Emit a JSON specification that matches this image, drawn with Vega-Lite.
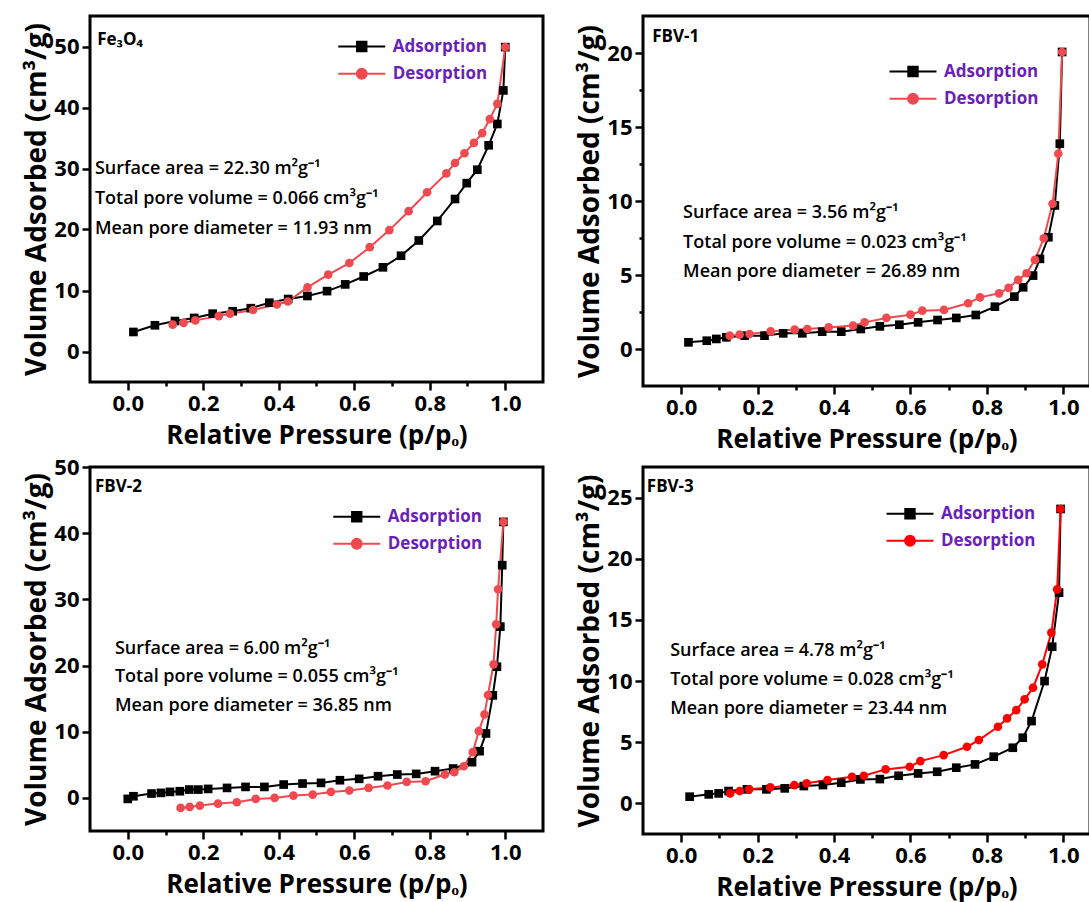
{
  "$schema": "https://vega.github.io/schema/vega-lite/v6.json",
  "padding": {"left": 22, "top": 14, "right": 0, "bottom": 0},
  "columns": 2,
  "spacing": {"row": 81, "column": 100},
  "bounds": "flush",
  "align": "each",
  "resolve": {"scale": {"color": "independent", "opacity": "independent"}, "legend": {"color": "independent", "opacity": "independent"}},
  "config": {
    "font": "Open Sans",
    "view": {"stroke": "#000000", "strokeWidth": 3},
    "axis": {"domain": false, "grid": false, "tickColor": "#000000", "tickWidth": 2.5, "labelFont": "Open Sans", "labelFontSize": 22, "labelFontWeight": "bold", "labelColor": "#000000", "labelPadding": 3, "labelOverlap": false, "labelBound": false, "labelFlush": false, "titleFont": "Open Sans", "titleFontWeight": "bold", "titleColor": "#000000"},
    "axisX": {"titleFontSize": 26, "titlePadding": 8},
    "axisY": {"titleFontSize": 28, "titlePadding": 2},
    "legend": {"labelFont": "Open Sans", "labelFontSize": 17, "labelFontWeight": "bold", "labelColor": "#6a1fb8", "symbolSize": 552, "symbolStrokeWidth": 2, "symbolOpacity": 1, "labelOffset": 18, "rowPadding": 3, "padding": 0}
  },
  "datasets": {
    "fe3o4": [
      {"p": 0.015, "v": 3.2, "s": "Adsorption"}, {"p": 0.072, "v": 4.3, "s": "Adsorption"}, {"p": 0.125, "v": 5.0, "s": "Adsorption"}, {"p": 0.176, "v": 5.5, "s": "Adsorption"}, {"p": 0.225, "v": 6.2, "s": "Adsorption"}, {"p": 0.278, "v": 6.6, "s": "Adsorption"}, {"p": 0.326, "v": 7.1, "s": "Adsorption"}, {"p": 0.375, "v": 8.0, "s": "Adsorption"}, {"p": 0.425, "v": 8.6, "s": "Adsorption"}, {"p": 0.476, "v": 9.1, "s": "Adsorption"}, {"p": 0.528, "v": 9.9, "s": "Adsorption"}, {"p": 0.576, "v": 11.0, "s": "Adsorption"}, {"p": 0.625, "v": 12.3, "s": "Adsorption"}, {"p": 0.676, "v": 13.8, "s": "Adsorption"}, {"p": 0.724, "v": 15.7, "s": "Adsorption"}, {"p": 0.771, "v": 18.2, "s": "Adsorption"}, {"p": 0.82, "v": 21.4, "s": "Adsorption"}, {"p": 0.867, "v": 25.0, "s": "Adsorption"}, {"p": 0.898, "v": 27.6, "s": "Adsorption"}, {"p": 0.926, "v": 29.8, "s": "Adsorption"}, {"p": 0.956, "v": 33.8, "s": "Adsorption"}, {"p": 0.979, "v": 37.3, "s": "Adsorption"}, {"p": 0.995, "v": 42.8, "s": "Adsorption"}, {"p": 1.0, "v": 49.9, "s": "Adsorption"},
      {"p": 1.0, "v": 49.9, "s": "Desorption"}, {"p": 0.979, "v": 40.6, "s": "Desorption"}, {"p": 0.959, "v": 38.1, "s": "Desorption"}, {"p": 0.939, "v": 35.8, "s": "Desorption"}, {"p": 0.917, "v": 34.2, "s": "Desorption"}, {"p": 0.892, "v": 32.5, "s": "Desorption"}, {"p": 0.867, "v": 30.9, "s": "Desorption"}, {"p": 0.844, "v": 29.2, "s": "Desorption"}, {"p": 0.793, "v": 26.1, "s": "Desorption"}, {"p": 0.744, "v": 23.0, "s": "Desorption"}, {"p": 0.693, "v": 19.9, "s": "Desorption"}, {"p": 0.641, "v": 17.1, "s": "Desorption"}, {"p": 0.587, "v": 14.5, "s": "Desorption"}, {"p": 0.531, "v": 12.6, "s": "Desorption"}, {"p": 0.476, "v": 10.5, "s": "Desorption"}, {"p": 0.424, "v": 8.2, "s": "Desorption"}, {"p": 0.395, "v": 7.7, "s": "Desorption"}, {"p": 0.332, "v": 6.8, "s": "Desorption"}, {"p": 0.271, "v": 6.2, "s": "Desorption"}, {"p": 0.241, "v": 5.8, "s": "Desorption"}, {"p": 0.179, "v": 5.1, "s": "Desorption"}, {"p": 0.148, "v": 4.7, "s": "Desorption"}, {"p": 0.119, "v": 4.4, "s": "Desorption"}
    ],
    "fbv1": [
      {"p": 0.019, "v": 0.45, "s": "Adsorption"}, {"p": 0.067, "v": 0.56, "s": "Adsorption"}, {"p": 0.092, "v": 0.68, "s": "Adsorption"}, {"p": 0.118, "v": 0.79, "s": "Adsorption"}, {"p": 0.166, "v": 0.9, "s": "Adsorption"}, {"p": 0.218, "v": 0.9, "s": "Adsorption"}, {"p": 0.267, "v": 1.06, "s": "Adsorption"}, {"p": 0.317, "v": 1.06, "s": "Adsorption"}, {"p": 0.369, "v": 1.17, "s": "Adsorption"}, {"p": 0.419, "v": 1.17, "s": "Adsorption"}, {"p": 0.47, "v": 1.35, "s": "Adsorption"}, {"p": 0.52, "v": 1.53, "s": "Adsorption"}, {"p": 0.571, "v": 1.64, "s": "Adsorption"}, {"p": 0.62, "v": 1.8, "s": "Adsorption"}, {"p": 0.671, "v": 1.96, "s": "Adsorption"}, {"p": 0.72, "v": 2.1, "s": "Adsorption"}, {"p": 0.771, "v": 2.3, "s": "Adsorption"}, {"p": 0.821, "v": 2.86, "s": "Adsorption"}, {"p": 0.872, "v": 3.54, "s": "Adsorption"}, {"p": 0.895, "v": 4.17, "s": "Adsorption"}, {"p": 0.921, "v": 4.96, "s": "Adsorption"}, {"p": 0.939, "v": 6.09, "s": "Adsorption"}, {"p": 0.961, "v": 7.55, "s": "Adsorption"}, {"p": 0.978, "v": 9.7, "s": "Adsorption"}, {"p": 0.991, "v": 13.87, "s": "Adsorption"}, {"p": 0.997, "v": 20.07, "s": "Adsorption"},
      {"p": 0.997, "v": 20.07, "s": "Desorption"}, {"p": 0.987, "v": 13.19, "s": "Desorption"}, {"p": 0.972, "v": 9.81, "s": "Desorption"}, {"p": 0.949, "v": 7.48, "s": "Desorption"}, {"p": 0.926, "v": 6.02, "s": "Desorption"}, {"p": 0.904, "v": 5.12, "s": "Desorption"}, {"p": 0.882, "v": 4.67, "s": "Desorption"}, {"p": 0.857, "v": 4.13, "s": "Desorption"}, {"p": 0.832, "v": 3.76, "s": "Desorption"}, {"p": 0.782, "v": 3.49, "s": "Desorption"}, {"p": 0.751, "v": 3.09, "s": "Desorption"}, {"p": 0.688, "v": 2.64, "s": "Desorption"}, {"p": 0.631, "v": 2.59, "s": "Desorption"}, {"p": 0.6, "v": 2.32, "s": "Desorption"}, {"p": 0.537, "v": 2.1, "s": "Desorption"}, {"p": 0.48, "v": 1.8, "s": "Desorption"}, {"p": 0.45, "v": 1.58, "s": "Desorption"}, {"p": 0.386, "v": 1.46, "s": "Desorption"}, {"p": 0.33, "v": 1.35, "s": "Desorption"}, {"p": 0.297, "v": 1.31, "s": "Desorption"}, {"p": 0.234, "v": 1.19, "s": "Desorption"}, {"p": 0.179, "v": 1.01, "s": "Desorption"}, {"p": 0.153, "v": 0.97, "s": "Desorption"}, {"p": 0.127, "v": 0.9, "s": "Desorption"}
    ],
    "fbv2": [
      {"p": 0.0, "v": -0.15, "s": "Adsorption"}, {"p": 0.015, "v": 0.25, "s": "Adsorption"}, {"p": 0.063, "v": 0.66, "s": "Adsorption"}, {"p": 0.088, "v": 0.76, "s": "Adsorption"}, {"p": 0.112, "v": 0.91, "s": "Adsorption"}, {"p": 0.138, "v": 1.01, "s": "Adsorption"}, {"p": 0.163, "v": 1.26, "s": "Adsorption"}, {"p": 0.187, "v": 1.26, "s": "Adsorption"}, {"p": 0.213, "v": 1.36, "s": "Adsorption"}, {"p": 0.263, "v": 1.51, "s": "Adsorption"}, {"p": 0.312, "v": 1.66, "s": "Adsorption"}, {"p": 0.362, "v": 1.66, "s": "Adsorption"}, {"p": 0.413, "v": 2.02, "s": "Adsorption"}, {"p": 0.463, "v": 2.17, "s": "Adsorption"}, {"p": 0.512, "v": 2.27, "s": "Adsorption"}, {"p": 0.562, "v": 2.67, "s": "Adsorption"}, {"p": 0.613, "v": 2.88, "s": "Adsorption"}, {"p": 0.663, "v": 3.28, "s": "Adsorption"}, {"p": 0.714, "v": 3.53, "s": "Adsorption"}, {"p": 0.764, "v": 3.63, "s": "Adsorption"}, {"p": 0.814, "v": 4.04, "s": "Adsorption"}, {"p": 0.862, "v": 4.44, "s": "Adsorption"}, {"p": 0.912, "v": 5.4, "s": "Adsorption"}, {"p": 0.932, "v": 7.06, "s": "Adsorption"}, {"p": 0.949, "v": 9.74, "s": "Adsorption"}, {"p": 0.967, "v": 15.49, "s": "Adsorption"}, {"p": 0.978, "v": 19.82, "s": "Adsorption"}, {"p": 0.987, "v": 25.88, "s": "Adsorption"}, {"p": 0.992, "v": 35.16, "s": "Adsorption"}, {"p": 0.995, "v": 41.7, "s": "Adsorption"},
      {"p": 0.995, "v": 41.7, "s": "Desorption"}, {"p": 0.981, "v": 31.53, "s": "Desorption"}, {"p": 0.976, "v": 26.23, "s": "Desorption"}, {"p": 0.969, "v": 20.18, "s": "Desorption"}, {"p": 0.954, "v": 15.54, "s": "Desorption"}, {"p": 0.945, "v": 12.61, "s": "Desorption"}, {"p": 0.93, "v": 10.09, "s": "Desorption"}, {"p": 0.914, "v": 6.91, "s": "Desorption"}, {"p": 0.89, "v": 4.79, "s": "Desorption"}, {"p": 0.865, "v": 3.88, "s": "Desorption"}, {"p": 0.84, "v": 3.53, "s": "Desorption"}, {"p": 0.789, "v": 2.52, "s": "Desorption"}, {"p": 0.739, "v": 2.42, "s": "Desorption"}, {"p": 0.688, "v": 1.87, "s": "Desorption"}, {"p": 0.638, "v": 1.51, "s": "Desorption"}, {"p": 0.587, "v": 1.11, "s": "Desorption"}, {"p": 0.538, "v": 0.91, "s": "Desorption"}, {"p": 0.49, "v": 0.5, "s": "Desorption"}, {"p": 0.439, "v": 0.35, "s": "Desorption"}, {"p": 0.389, "v": 0.0, "s": "Desorption"}, {"p": 0.339, "v": -0.15, "s": "Desorption"}, {"p": 0.289, "v": -0.66, "s": "Desorption"}, {"p": 0.239, "v": -0.86, "s": "Desorption"}, {"p": 0.191, "v": -1.16, "s": "Desorption"}, {"p": 0.164, "v": -1.36, "s": "Desorption"}, {"p": 0.14, "v": -1.51, "s": "Desorption"}
    ],
    "fbv3": [
      {"p": 0.022, "v": 0.55, "s": "Adsorption"}, {"p": 0.072, "v": 0.74, "s": "Adsorption"}, {"p": 0.098, "v": 0.82, "s": "Adsorption"}, {"p": 0.124, "v": 1.01, "s": "Adsorption"}, {"p": 0.172, "v": 1.15, "s": "Adsorption"}, {"p": 0.223, "v": 1.15, "s": "Adsorption"}, {"p": 0.271, "v": 1.23, "s": "Adsorption"}, {"p": 0.321, "v": 1.42, "s": "Adsorption"}, {"p": 0.371, "v": 1.5, "s": "Adsorption"}, {"p": 0.419, "v": 1.69, "s": "Adsorption"}, {"p": 0.469, "v": 1.96, "s": "Adsorption"}, {"p": 0.52, "v": 1.99, "s": "Adsorption"}, {"p": 0.569, "v": 2.26, "s": "Adsorption"}, {"p": 0.62, "v": 2.45, "s": "Adsorption"}, {"p": 0.67, "v": 2.59, "s": "Adsorption"}, {"p": 0.72, "v": 2.92, "s": "Adsorption"}, {"p": 0.769, "v": 3.19, "s": "Adsorption"}, {"p": 0.818, "v": 3.82, "s": "Adsorption"}, {"p": 0.868, "v": 4.55, "s": "Adsorption"}, {"p": 0.894, "v": 5.37, "s": "Adsorption"}, {"p": 0.917, "v": 6.73, "s": "Adsorption"}, {"p": 0.951, "v": 10.0, "s": "Adsorption"}, {"p": 0.971, "v": 12.81, "s": "Adsorption"}, {"p": 0.989, "v": 17.23, "s": "Adsorption"}, {"p": 0.993, "v": 24.07, "s": "Adsorption"},
      {"p": 0.993, "v": 24.07, "s": "Desorption"}, {"p": 0.984, "v": 17.5, "s": "Desorption"}, {"p": 0.969, "v": 13.96, "s": "Desorption"}, {"p": 0.945, "v": 11.37, "s": "Desorption"}, {"p": 0.921, "v": 9.46, "s": "Desorption"}, {"p": 0.899, "v": 8.51, "s": "Desorption"}, {"p": 0.877, "v": 7.63, "s": "Desorption"}, {"p": 0.853, "v": 6.95, "s": "Desorption"}, {"p": 0.829, "v": 6.27, "s": "Desorption"}, {"p": 0.779, "v": 5.18, "s": "Desorption"}, {"p": 0.748, "v": 4.63, "s": "Desorption"}, {"p": 0.687, "v": 3.95, "s": "Desorption"}, {"p": 0.626, "v": 3.46, "s": "Desorption"}, {"p": 0.598, "v": 3.0, "s": "Desorption"}, {"p": 0.535, "v": 2.78, "s": "Desorption"}, {"p": 0.478, "v": 2.26, "s": "Desorption"}, {"p": 0.447, "v": 2.18, "s": "Desorption"}, {"p": 0.383, "v": 1.91, "s": "Desorption"}, {"p": 0.328, "v": 1.64, "s": "Desorption"}, {"p": 0.296, "v": 1.5, "s": "Desorption"}, {"p": 0.233, "v": 1.31, "s": "Desorption"}, {"p": 0.178, "v": 1.15, "s": "Desorption"}, {"p": 0.153, "v": 1.01, "s": "Desorption"}, {"p": 0.128, "v": 0.82, "s": "Desorption"}
    ]
  },
  "concat": [
    {
      "width": 453, "height": 366,
      "data": {"name": "fe3o4"},
      "layer": [
        {"mark": {"type": "line", "strokeWidth": 2},
         "encoding": {
           "x": {"field": "p", "type": "quantitative", "scale": {"domain": [-0.1, 1.1], "nice": false, "zero": false},
                 "axis": {"title": "Relative Pressure (p/pₒ)", "values": [0, 0.1, 0.2, 0.3, 0.4, 0.5, 0.6, 0.7, 0.8, 0.9, 1.0], "labelExpr": "round(datum.value*10) % 2 === 1 ? '' : format(datum.value, '.1f')", "tickSize": {"condition": {"test": "round(datum.value*10) % 2 === 1", "value": 4}, "value": 8}}},
           "y": {"field": "v", "type": "quantitative", "scale": {"domain": [-5, 55], "nice": false, "zero": false},
                 "axis": {"title": "Volume Adsorbed (cm³/g)", "values": [0, 5, 10, 15, 20, 25, 30, 35, 40, 45, 50], "labelExpr": "datum.value % 10 !== 0 ? '' : datum.label", "tickSize": {"condition": {"test": "datum.value % 10 !== 0", "value": 4}, "value": 8}}},
           "color": {"field": "s", "type": "nominal", "scale": {"domain": ["Adsorption", "Desorption"], "range": ["#000000", "#ef4a50"]}}
         }},
        {"transform": [{"filter": "datum.s === 'Adsorption'"}],
         "mark": {"type": "point", "shape": "square", "filled": true, "opacity": 1, "size": 75},
         "encoding": {"x": {"field": "p", "type": "quantitative"}, "y": {"field": "v", "type": "quantitative"},
           "color": {"field": "s", "type": "nominal",
             "legend": {"title": null, "orient": "none", "legendX": 258.75, "legendY": 17.5, "values": ["Adsorption"], "symbolType": "M-2,0H2M-0.4,-0.4H0.4V0.4H-0.4Z"}}}},
        {"transform": [{"filter": "datum.s === 'Desorption'"}],
         "mark": {"type": "point", "shape": "circle", "filled": true, "size": 75},
         "encoding": {"x": {"field": "p", "type": "quantitative"}, "y": {"field": "v", "type": "quantitative"}, "color": {"field": "s", "type": "nominal"},
           "opacity": {"field": "s", "type": "ordinal", "scale": {"domain": ["Desorption"], "range": [1, 1]},
             "legend": {"title": null, "orient": "none", "legendX": 258.75, "legendY": 44.75, "values": ["Desorption"], "symbolType": "M-2,0H2M0.42,0A0.42,0.42 0 1,1 -0.42,0A0.42,0.42 0 1,1 0.42,0Z", "symbolFillColor": "#ef4a50", "symbolStrokeColor": "#ef4a50"}}}},
        {"data": {"values": [{}]},
         "mark": {"type": "text", "align": "left", "baseline": "middle", "fontSize": 17, "fontWeight": "bold", "text": "Fe₃O₄", "color": "#000000"},
         "encoding": {"x": {"datum": -0.081}, "y": {"datum": 51.0}}},
        {"data": {"values": [{}]},
         "mark": {"type": "text", "align": "left", "baseline": "middle", "fontSize": 18, "fontWeight": 600, "lineHeight": 30, "color": "#000000",
                  "text": ["Surface area = 22.30 m²g⁻¹", "Total pore volume = 0.066 cm³g⁻¹", "Mean pore diameter = 11.93 nm"]},
         "encoding": {"x": {"datum": -0.087}, "y": {"datum": 30.0}}}
      ]
    },
    {
      "width": 447, "height": 370,
      "data": {"name": "fbv1"},
      "layer": [
        {"mark": {"type": "line", "strokeWidth": 2},
         "encoding": {
           "x": {"field": "p", "type": "quantitative", "scale": {"domain": [-0.1, 1.07], "nice": false, "zero": false},
                 "axis": {"title": "Relative Pressure (p/pₒ)", "values": [0, 0.1, 0.2, 0.3, 0.4, 0.5, 0.6, 0.7, 0.8, 0.9, 1.0], "labelExpr": "round(datum.value*10) % 2 === 1 ? '' : format(datum.value, '.1f')", "tickSize": {"condition": {"test": "round(datum.value*10) % 2 === 1", "value": 4}, "value": 8}}},
           "y": {"field": "v", "type": "quantitative", "scale": {"domain": [-2.5, 22.5], "nice": false, "zero": false},
                 "axis": {"title": "Volume Adsorbed (cm³/g)", "values": [0, 2.5, 5, 7.5, 10, 12.5, 15, 17.5, 20], "labelExpr": "datum.value % 5 !== 0 ? '' : datum.label", "tickSize": {"condition": {"test": "datum.value % 5 !== 0", "value": 4}, "value": 8}}},
           "color": {"field": "s", "type": "nominal", "scale": {"domain": ["Adsorption", "Desorption"], "range": ["#000000", "#ef4a50"]}}
         }},
        {"transform": [{"filter": "datum.s === 'Adsorption'"}],
         "mark": {"type": "point", "shape": "square", "filled": true, "opacity": 1, "size": 75},
         "encoding": {"x": {"field": "p", "type": "quantitative"}, "y": {"field": "v", "type": "quantitative"},
           "color": {"field": "s", "type": "nominal",
             "legend": {"title": null, "orient": "none", "legendX": 257, "legendY": 42.5, "values": ["Adsorption"], "symbolType": "M-2,0H2M-0.4,-0.4H0.4V0.4H-0.4Z"}}}},
        {"transform": [{"filter": "datum.s === 'Desorption'"}],
         "mark": {"type": "point", "shape": "circle", "filled": true, "size": 75},
         "encoding": {"x": {"field": "p", "type": "quantitative"}, "y": {"field": "v", "type": "quantitative"}, "color": {"field": "s", "type": "nominal"},
           "opacity": {"field": "s", "type": "ordinal", "scale": {"domain": ["Desorption"], "range": [1, 1]},
             "legend": {"title": null, "orient": "none", "legendX": 257, "legendY": 69.75, "values": ["Desorption"], "symbolType": "M-2,0H2M0.42,0A0.42,0.42 0 1,1 -0.42,0A0.42,0.42 0 1,1 0.42,0Z", "symbolFillColor": "#ef4a50", "symbolStrokeColor": "#ef4a50"}}}},
        {"data": {"values": [{}]},
         "mark": {"type": "text", "align": "left", "baseline": "middle", "fontSize": 17, "fontWeight": "bold", "text": "FBV-1", "color": "#000000"},
         "encoding": {"x": {"datum": -0.076}, "y": {"datum": 21.05}}},
        {"data": {"values": [{}]},
         "mark": {"type": "text", "align": "left", "baseline": "middle", "fontSize": 18, "fontWeight": 600, "lineHeight": 29.5, "color": "#000000",
                  "text": ["Surface area = 3.56 m²g⁻¹", "Total pore volume = 0.023 cm³g⁻¹", "Mean pore diameter = 26.89  nm"]},
         "encoding": {"x": {"datum": 0.005}, "y": {"datum": 9.16}}}
      ]
    },
    {
      "width": 453, "height": 364,
      "data": {"name": "fbv2"},
      "layer": [
        {"mark": {"type": "line", "strokeWidth": 2},
         "encoding": {
           "x": {"field": "p", "type": "quantitative", "scale": {"domain": [-0.1, 1.1], "nice": false, "zero": false},
                 "axis": {"title": "Relative Pressure (p/pₒ)", "values": [0, 0.1, 0.2, 0.3, 0.4, 0.5, 0.6, 0.7, 0.8, 0.9, 1.0], "labelExpr": "round(datum.value*10) % 2 === 1 ? '' : format(datum.value, '.1f')", "tickSize": {"condition": {"test": "round(datum.value*10) % 2 === 1", "value": 4}, "value": 8}}},
           "y": {"field": "v", "type": "quantitative", "scale": {"domain": [-5, 50], "nice": false, "zero": false},
                 "axis": {"title": "Volume Adsorbed (cm³/g)", "values": [0, 5, 10, 15, 20, 25, 30, 35, 40, 45, 50], "labelExpr": "datum.value % 10 !== 0 ? '' : datum.label", "tickSize": {"condition": {"test": "datum.value % 10 !== 0", "value": 4}, "value": 8}}},
           "color": {"field": "s", "type": "nominal", "scale": {"domain": ["Adsorption", "Desorption"], "range": ["#000000", "#ef4a50"]}}
         }},
        {"transform": [{"filter": "datum.s === 'Adsorption'"}],
         "mark": {"type": "point", "shape": "square", "filled": true, "opacity": 1, "size": 75},
         "encoding": {"x": {"field": "p", "type": "quantitative"}, "y": {"field": "v", "type": "quantitative"},
           "color": {"field": "s", "type": "nominal",
             "legend": {"title": null, "orient": "none", "legendX": 253.75, "legendY": 36.75, "values": ["Adsorption"], "symbolType": "M-2,0H2M-0.4,-0.4H0.4V0.4H-0.4Z"}}}},
        {"transform": [{"filter": "datum.s === 'Desorption'"}],
         "mark": {"type": "point", "shape": "circle", "filled": true, "size": 75},
         "encoding": {"x": {"field": "p", "type": "quantitative"}, "y": {"field": "v", "type": "quantitative"}, "color": {"field": "s", "type": "nominal"},
           "opacity": {"field": "s", "type": "ordinal", "scale": {"domain": ["Desorption"], "range": [1, 1]},
             "legend": {"title": null, "orient": "none", "legendX": 253.75, "legendY": 63.75, "values": ["Desorption"], "symbolType": "M-2,0H2M0.42,0A0.42,0.42 0 1,1 -0.42,0A0.42,0.42 0 1,1 0.42,0Z", "symbolFillColor": "#ef4a50", "symbolStrokeColor": "#ef4a50"}}}},
        {"data": {"values": [{}]},
         "mark": {"type": "text", "align": "left", "baseline": "middle", "fontSize": 17, "fontWeight": "bold", "text": "FBV-2", "color": "#000000"},
         "encoding": {"x": {"datum": -0.087}, "y": {"datum": 47.05}}},
        {"data": {"values": [{}]},
         "mark": {"type": "text", "align": "left", "baseline": "middle", "fontSize": 18, "fontWeight": 600, "lineHeight": 28.5, "color": "#000000",
                  "text": ["Surface area = 6.00 m²g⁻¹", "Total pore volume = 0.055 cm³g⁻¹", "Mean pore diameter = 36.85 nm"]},
         "encoding": {"x": {"datum": -0.034}, "y": {"datum": 22.57}}}
      ]
    },
    {
      "width": 447, "height": 367,
      "data": {"name": "fbv3"},
      "layer": [
        {"mark": {"type": "line", "strokeWidth": 2},
         "encoding": {
           "x": {"field": "p", "type": "quantitative", "scale": {"domain": [-0.1, 1.07], "nice": false, "zero": false},
                 "axis": {"title": "Relative Pressure (p/pₒ)", "values": [0, 0.1, 0.2, 0.3, 0.4, 0.5, 0.6, 0.7, 0.8, 0.9, 1.0], "labelExpr": "round(datum.value*10) % 2 === 1 ? '' : format(datum.value, '.1f')", "tickSize": {"condition": {"test": "round(datum.value*10) % 2 === 1", "value": 4}, "value": 8}}},
           "y": {"field": "v", "type": "quantitative", "scale": {"domain": [-2.5, 27.5], "nice": false, "zero": false},
                 "axis": {"title": "Volume Adsorbed (cm³/g)", "values": [0, 2.5, 5, 7.5, 10, 12.5, 15, 17.5, 20, 22.5, 25], "labelExpr": "datum.value % 5 !== 0 ? '' : datum.label", "tickSize": {"condition": {"test": "datum.value % 5 !== 0", "value": 4}, "value": 8}}},
           "color": {"field": "s", "type": "nominal", "scale": {"domain": ["Adsorption", "Desorption"], "range": ["#000000", "#ff0000"]}}
         }},
        {"transform": [{"filter": "datum.s === 'Adsorption'"}],
         "mark": {"type": "point", "shape": "square", "filled": true, "opacity": 1, "size": 75},
         "encoding": {"x": {"field": "p", "type": "quantitative"}, "y": {"field": "v", "type": "quantitative"},
           "color": {"field": "s", "type": "nominal",
             "legend": {"title": null, "orient": "none", "legendX": 254, "legendY": 33.75, "values": ["Adsorption"], "symbolType": "M-2,0H2M-0.4,-0.4H0.4V0.4H-0.4Z"}}}},
        {"transform": [{"filter": "datum.s === 'Desorption'"}],
         "mark": {"type": "point", "shape": "circle", "filled": true, "size": 75},
         "encoding": {"x": {"field": "p", "type": "quantitative"}, "y": {"field": "v", "type": "quantitative"}, "color": {"field": "s", "type": "nominal"},
           "opacity": {"field": "s", "type": "ordinal", "scale": {"domain": ["Desorption"], "range": [1, 1]},
             "legend": {"title": null, "orient": "none", "legendX": 254, "legendY": 60.75, "values": ["Desorption"], "symbolType": "M-2,0H2M0.42,0A0.42,0.42 0 1,1 -0.42,0A0.42,0.42 0 1,1 0.42,0Z", "symbolFillColor": "#ff0000", "symbolStrokeColor": "#ff0000"}}}},
        {"data": {"values": [{}]},
         "mark": {"type": "text", "align": "left", "baseline": "middle", "fontSize": 17, "fontWeight": "bold", "text": "FBV-3", "color": "#000000"},
         "encoding": {"x": {"datum": -0.09}, "y": {"datum": 25.9}}},
        {"data": {"values": [{}]},
         "mark": {"type": "text", "align": "left", "baseline": "middle", "fontSize": 18, "fontWeight": 600, "lineHeight": 29, "color": "#000000",
                  "text": ["Surface area = 4.78 m²g⁻¹", "Total pore volume = 0.028 cm³g⁻¹", "Mean pore diameter = 23.44 nm"]},
         "encoding": {"x": {"datum": -0.029}, "y": {"datum": 12.5}}}
      ]
    }
  ]
}
